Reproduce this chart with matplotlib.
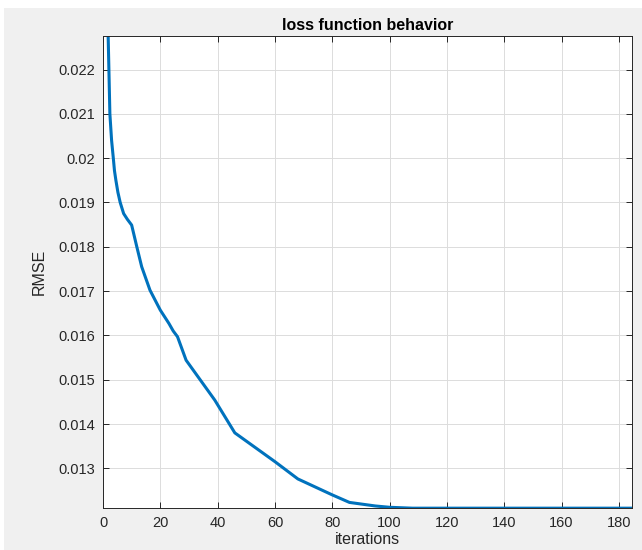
import matplotlib
matplotlib.use('Agg')
import matplotlib.pyplot as plt
from matplotlib.patches import Rectangle
from matplotlib.ticker import FuncFormatter

# Data (vertices of the loss curve)
iterations = [1.8, 2.4, 3.0, 3.6, 4.0, 4.5, 5.2, 6.0, 7.2, 8.5, 10.0, 11.8, 13.5, 16.4,
              20.0, 23.0, 24.5, 26.0, 29.0, 34.0, 39.0, 46.0, 60.0, 68.0, 80.0, 86.0,
              95.0, 100.0, 108.0, 185.0]
rmse = [0.02276, 0.0210, 0.0204, 0.0200, 0.01972, 0.0195, 0.01923, 0.0190, 0.01875,
        0.01862, 0.01849, 0.0180, 0.01755, 0.01702, 0.01657, 0.01627, 0.0161, 0.01597,
        0.01544, 0.01499, 0.01454, 0.01380, 0.01315, 0.01276, 0.01240, 0.01223,
        0.01215, 0.01212, 0.01210, 0.01210]
x_ticks = [0, 20, 40, 60, 80, 100, 120, 140, 160, 180]
y_ticks = [0.013, 0.014, 0.015, 0.016, 0.017, 0.018, 0.019, 0.020, 0.021, 0.022]

plt.rcParams['font.family'] = ['Liberation Sans', 'DejaVu Sans']

W, H = 642, 550
fig = plt.figure(figsize=(W / 100, H / 100), dpi=100)
fig.patch.set_facecolor('white')
fig.patches.append(Rectangle((4 / W, 0), 1, (H - 8) / H, transform=fig.transFigure,
                             facecolor='#f0f0f0', edgecolor='none', zorder=-10))

ax = fig.add_axes([103 / W, (H - 508) / H, 529 / W, 472 / H])
ax.plot(iterations, rmse, color='#0072BD', linewidth=2.2)

ax.set_xlim(0, 184.6)
ax.set_ylim(0.012104, 0.022758)
ax.set_xticks(x_ticks)
ax.set_yticks(y_ticks)
ax.yaxis.set_major_formatter(FuncFormatter(lambda v, p: f'{v:g}'))

ax.grid(True, color='#dcdcdc', linewidth=0.7)
ax.set_axisbelow(True)
ax.tick_params(direction='in', top=True, right=True, length=4, width=0.7,
               colors='#262626', labelsize=10.5, pad=6)
for s in ax.spines.values():
    s.set_color('#262626')
    s.set_linewidth(0.7)

ax.set_title('loss function behavior', fontsize=11.5, fontweight='bold', pad=4)
ax.set_xlabel('iterations', fontsize=11.5, color='#262626', labelpad=1)
ax.set_ylabel('RMSE', fontsize=11.5, color='#262626', labelpad=8)

fig.savefig('out.png', dpi=100, facecolor=fig.get_facecolor())
